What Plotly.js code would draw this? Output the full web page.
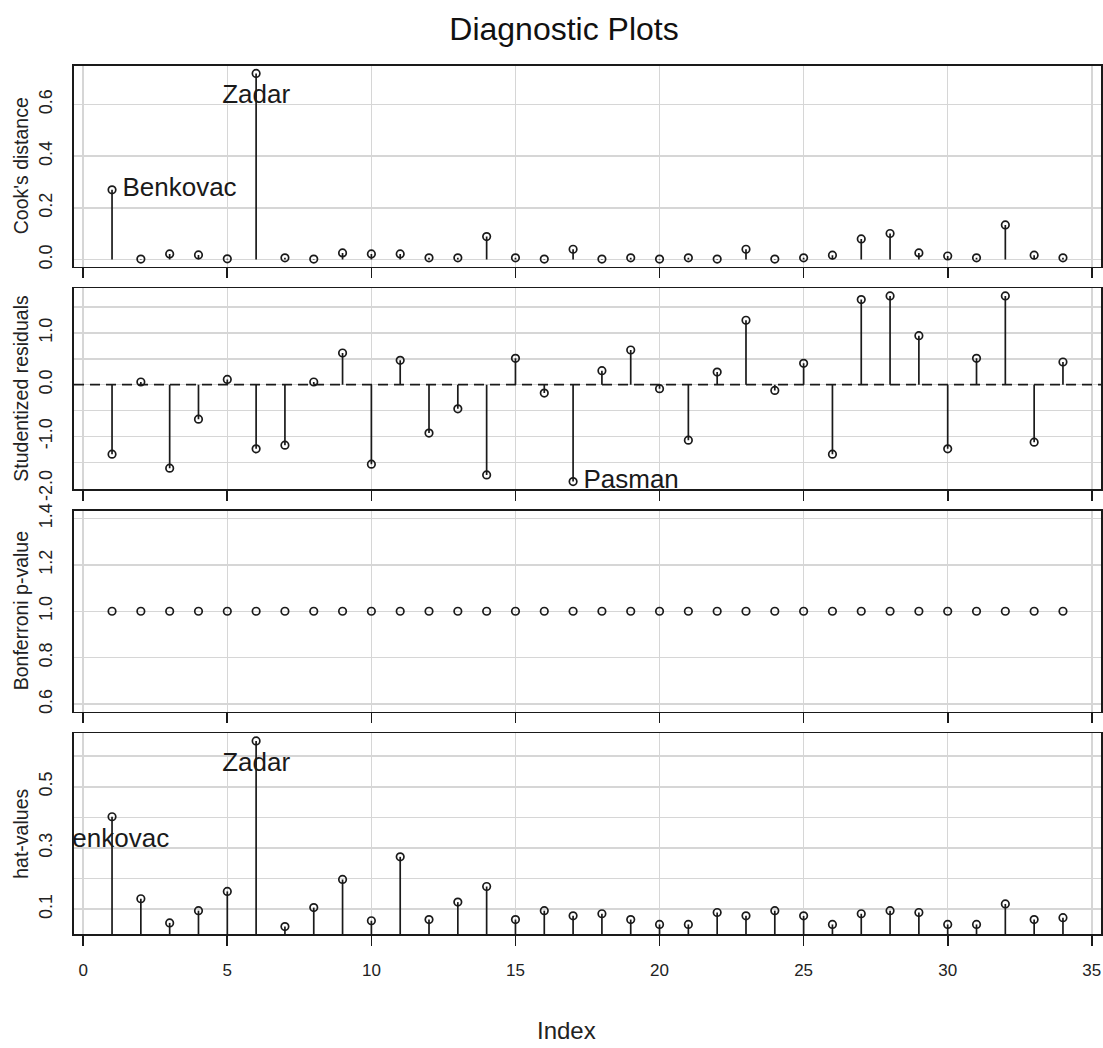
<!DOCTYPE html>
<html>
<head>
<meta charset="utf-8">
<script src="https://cdn.plot.ly/plotly-3.0.1.min.js"></script>
<style>html,body{margin:0;padding:0;background:#fff;}#chart{width:1103px;height:1048px;}</style>
</head>
<body>
<div id="chart"></div>
<script>
// ---------- data ----------
var obsIndex = [1,2,3,4,5,6,7,8,9,10,11,12,13,14,15,16,17,18,19,20,21,22,23,24,25,26,27,28,29,30,31,32,33,34];
var cooksDistance = [0.270,0.002,0.022,0.018,0.003,0.720,0.007,0.002,0.026,0.022,0.022,0.007,0.007,0.089,0.007,0.002,
  0.040,0.002,0.007,0.002,0.007,0.002,0.040,0.002,0.007,0.017,0.080,0.101,0.026,0.014,0.007,0.134,0.017,0.007];
var studentizedResiduals = [-1.342,0.052,-1.613,-0.665,0.103,-1.239,-1.168,0.052,0.613,-1.535,0.471,-0.935,-0.465,-1.742,0.510,-0.161,
  -1.871,0.271,0.671,-0.077,-1.071,0.245,1.245,-0.110,0.413,-1.342,1.645,1.716,0.948,-1.239,0.510,1.716,-1.110,0.439];
var bonferroniP = [1,1,1,1,1,1,1,1,1,1,1,1,1,1,1,1,1,1,1,1,1,1,1,1,1,1,1,1,1,1,1,1,1,1];
var hatValues = [0.402,0.134,0.055,0.095,0.158,0.650,0.043,0.105,0.197,0.062,0.271,0.066,0.123,0.174,0.066,0.095,
  0.078,0.085,0.066,0.050,0.050,0.089,0.078,0.095,0.078,0.050,0.085,0.095,0.089,0.050,0.050,0.117,0.066,0.072];

var cookLabelIdx = [1, 6];
var cookLabelText = ["Benkovac", "Zadar"];
var cookLabelPos = ["middle right", "bottom center"];
var residLabelIdx = [17];
var residLabelText = ["Pasman"];
var residLabelPos = ["middle right"];
var hatLabelIdx = [6, 1];
var hatLabelText = ["Zadar", "Benkovac"];
var hatLabelPos = ["bottom center", "bottom center"];

var xTickVals = [0,5,10,15,20,25,30,35];
var cookTicks = [0,0.2,0.4,0.6];
var cookTickText = ["0.0","0.2","0.4","0.6"];
var residTicks = [-2,-1.5,-1,-0.5,0,0.5,1,1.5];
var residTickText = ["-2.0","","-1.0","","0.0","","1.0",""];
var bonfTicks = [0.6,0.8,1.0,1.2,1.4];
var bonfTickText = ["0.6","0.8","1.0","1.2","1.4"];
var hatTicks = [0.1,0.2,0.3,0.4,0.5,0.6];
var hatTickText = ["0.1","","0.3","","0.5",""];

var panelTitles = ["Cook's distance", "Studentized residuals", "Bonferroni p-value", "hat-values"];
var mainTitle = "Diagnostic Plots";
var xTitle = "Index";

// ---------- helpers ----------
var FONT = "Liberation Sans, Arial, sans-serif";
var INK = "#1a1a1a";

function rRange(v) {            // R default axis range: data range + 4%
  var lo = Math.min.apply(null, v), hi = Math.max.apply(null, v);
  if (lo === hi) { lo = lo * 0.6; hi = hi * 1.4; }
  var e = 0.04 * (hi - lo);
  return [lo - e, hi + e];
}
function stems(x, y) {
  var sx = [], sy = [];
  for (var i = 0; i < x.length; i++) { sx.push(x[i], x[i], null); sy.push(0, y[i], null); }
  return {x: sx, y: sy};
}
function pick(arr, idxs) { return idxs.map(function (k) { return arr[k - 1]; }); }

var traces = [];
function addPanel(n, yv, withStems, lblIdx, lblText, lblPos) {
  var xa = n === 1 ? 'x' : 'x' + n, ya = n === 1 ? 'y' : 'y' + n;
  if (withStems) {
    var s = stems(obsIndex, yv);
    traces.push({x: s.x, y: s.y, xaxis: xa, yaxis: ya, mode: 'lines', type: 'scatter',
      line: {color: INK, width: 1.7}, hoverinfo: 'skip', cliponaxis: true});
  }
  traces.push({x: obsIndex, y: yv, xaxis: xa, yaxis: ya, mode: 'markers', type: 'scatter',
    marker: {symbol: 'circle-open', size: 7.5, color: INK, line: {width: 1.7, color: INK}}, cliponaxis: false});
  if (lblIdx) {
    traces.push({x: lblIdx, y: pick(yv, lblIdx), xaxis: xa, yaxis: ya, mode: 'markers+text', type: 'scatter',
      text: lblText, textposition: lblPos, cliponaxis: true,
      marker: {size: 15, color: 'rgba(0,0,0,0)'},
      textfont: {family: FONT, size: 26, color: INK}, hoverinfo: 'skip'});
  }
}
addPanel(1, cooksDistance, true, cookLabelIdx, cookLabelText, cookLabelPos);
addPanel(2, studentizedResiduals, true, residLabelIdx, residLabelText, residLabelPos);
addPanel(3, bonferroniP, false, null);
addPanel(4, hatValues, true, hatLabelIdx, hatLabelText, hatLabelPos);

var xRange = rRange(obsIndex);
var domains = [[0.769, 1.0], [0.5127, 0.7437], [0.2563, 0.4873], [0.0, 0.231]];
var yData = [cooksDistance, studentizedResiduals, bonferroniP, hatValues];
var yTicks = [cookTicks, residTicks, bonfTicks, hatTicks];
var yTickTexts = [cookTickText, residTickText, bonfTickText, hatTickText];

var layout = {
  width: 1103, height: 1048,
  margin: {l: 74, r: 2, t: 66, b: 114},
  paper_bgcolor: '#fff', plot_bgcolor: '#fff',
  showlegend: false,
  font: {family: FONT, color: INK, size: 17},
  title: {text: mainTitle, font: {family: FONT, size: 32, color: '#111'},
    x: 564 / 1103, xref: 'container', xanchor: 'center', y: 1 - 29 / 1048, yref: 'container', yanchor: 'middle'},
  annotations: [],
  shapes: []
};

for (var p = 0; p < 4; p++) {
  var n = p + 1;
  var xk = n === 1 ? 'xaxis' : 'xaxis' + n, yk = n === 1 ? 'yaxis' : 'yaxis' + n;
  var yr = rRange(yData[p]);
  layout[xk] = {
    domain: [0, 1], range: xRange, anchor: n === 1 ? 'y' : 'y' + n,
    tickmode: 'array', tickvals: xTickVals, ticks: 'outside', ticklen: 10, tickwidth: 1.7, tickcolor: INK,
    showticklabels: n === 4, ticklabelstandoff: 10, tickfont: {family: FONT, size: 17, color: '#222'},
    showgrid: true, gridcolor: '#d6d6d6', gridwidth: 1.5, zeroline: false,
    showline: true, mirror: true, linecolor: INK, linewidth: 1.7, fixedrange: true
  };
  layout[yk] = {
    domain: domains[p], range: yr, anchor: n === 1 ? 'x' : 'x' + n,
    tickmode: 'array', tickvals: yTicks[p], ticktext: yTickTexts[p], ticks: '', tickangle: -90,
    ticklabelstandoff: 13, tickfont: {family: FONT, size: 18, color: '#222'},
    showgrid: true, gridcolor: '#d6d6d6', gridwidth: 1.5, zeroline: false,
    showline: true, mirror: true, linecolor: INK, linewidth: 1.7, fixedrange: true
  };
  layout.annotations.push({
    text: panelTitles[p], textangle: -90, showarrow: false,
    xref: 'paper', x: 0, xanchor: 'center', xshift: -53,
    yref: 'paper', y: (domains[p][0] + domains[p][1]) / 2, yanchor: 'middle',
    font: {family: FONT, size: 19.5, color: '#222'}
  });
}
// x-axis title (paper coordinates: plot area spans x 74..1101, y 66..934 px)
layout.annotations.push({
  text: xTitle, showarrow: false, xref: 'paper', x: (566 - 74) / 1027, xanchor: 'center',
  yref: 'paper', y: (934 - 1030) / 868, yanchor: 'middle',
  font: {family: FONT, size: 24, color: '#222'}
});
// dashed reference line at zero on the residual panel
layout.shapes.push({type: 'line', xref: 'x2 domain', x0: 0, x1: 1, yref: 'y2', y0: 0, y1: 0,
  line: {color: INK, width: 1.7, dash: '10px,6px'}});

Plotly.newPlot('chart', traces, layout, {displayModeBar: false, staticPlot: true});
</script>
</body>
</html>
